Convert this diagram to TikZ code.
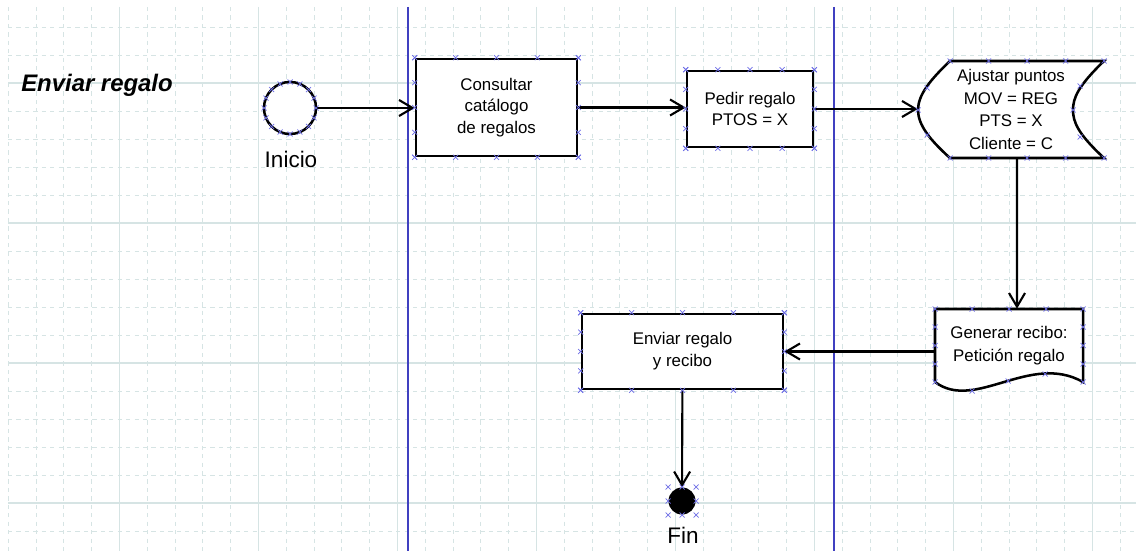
\documentclass[tikz,border=0pt]{standalone}
\usepackage{fontspec}
\setmainfont{Liberation Sans}
\usetikzlibrary{arrows.meta,calc}

\definecolor{gridc}{RGB}{214,228,228}
\definecolor{lanec}{RGB}{64,64,192}
\definecolor{markc}{RGB}{110,110,230}

\tikzset{
  box/.style={draw, line width=1.8pt, fill=white, align=center, font=\fontsize{12}{15.5}\selectfont},
  txt/.style={align=center, font=\fontsize{12}{16}\selectfont},
  outl/.style={draw, line width=1.8pt, fill=white},
  flow/.style={-{Straight Barb[length=3.4mm,width=4mm]}, line width=1.5pt},
  minor/.style={gridc, dash pattern=on 3pt off 3pt},
  major/.style={gridc, line width=0.8pt},
  xmk/.style={markc, line width=0.5pt}
}
\newcommand\cpmark[1]{\draw[xmk] #1 +(-2.5,-2.5) -- +(2.5,2.5) +(-2.5,2.5) -- +(2.5,-2.5);}

\begin{document}
\begin{tikzpicture}[x=0.025cm,y=-0.025cm]
\useasboundingbox (0,0) rectangle (1136,551);
% grid
\foreach \k in {0,...,40} \draw[minor] ({8+27.8*\k},7) -- ({8+27.8*\k},551);
\foreach \j in {0,...,18} \draw[minor] (8,{27+28*\j}) -- (1136,{27+28*\j});
\foreach \k in {4,9,...,39} \draw[major] ({8+27.8*\k},7) -- ({8+27.8*\k},551);
\foreach \j in {2,7,12,17} \draw[major] (8,{27+28*\j}) -- (1136,{27+28*\j});
% lanes
\draw[lanec, line width=1pt] (408,7) -- (408,551);
\draw[lanec, line width=1pt] (834,7) -- (834,551);

\node[anchor=base west, inner sep=0, font=\bfseries\itshape\fontsize{17}{20}\selectfont] (title) at (21,92) {Enviar regalo};

\node[circle, outl, minimum size=1.3cm, inner sep=0] (ini) at (290,108) {};
\node[anchor=base, font=\fontsize{16}{19}\selectfont] (ini-l) at (291,168) {Inicio};

\node[box, minimum width=4.025cm, minimum height=2.425cm] (cons) at (496.5,107.5) {Consultar\\catálogo\\de regalos};
\node[box, minimum width=3.15cm, minimum height=1.9cm] (ped) at (750,109) {Pedir regalo\\PTOS = X};

% display shape
\path[outl] (950,61) -- (1104,61) .. controls (1078,86) and (1073,98) .. (1073,110)
  .. controls (1073,122) and (1078,134) .. (1104,158) -- (950,158)
  .. controls (930,140) and (918,125) .. (918,110) .. controls (918,95) and (930,80) .. cycle;
\node[txt, minimum width=4.65cm, minimum height=2.425cm] (aju) at (1011,109.5) {Ajustar puntos\\MOV = REG\\PTS = X\\Cliente = C};

% document shape
\path[outl] (935,382) -- (935,309) -- (1083,309) -- (1083,382)
  .. controls (1030,352) and (975,412) .. (935,382);
\node[txt, minimum width=3.7cm, minimum height=1.825cm] (gen) at (1009,345.5) {Generar recibo:\\Petición regalo};

\node[box, minimum width=5.025cm, minimum height=1.875cm] (env) at (682.5,351.5) {Enviar regalo\\y recibo};

\node[circle, fill=black, minimum size=0.675cm, inner sep=0] (fin) at (682,501) {};
\node[anchor=base, font=\fontsize{16}{19}\selectfont] (fin-l) at (683,543) {Fin};

\draw[flow] (ini.east) -- (ini.east -| cons.west);
\draw[flow] (cons.east) -- (cons.east -| ped.west);
\draw[flow] (ped.east) -- (ped.east -| aju.west);
\draw[flow] ([xshift=0.15cm]aju.south) -- ([xshift=0.2cm]gen.north);
\draw[flow] (gen.west |- env.east) -- (env.east);
\draw[flow] (env) -- (fin);

% connection marks
\foreach \n in {cons,ped,env}
  \foreach \t in {0,0.25,0.5,0.75,1}
    \foreach \a/\b in {north west/north east,south west/south east,north west/south west,north east/south east}
      {\cpmark{($(\n.\a)!\t!(\n.\b)$)}}
\foreach \p in {(950,61),(988.5,61),(1027,61),(1065.5,61),(1104,61),(950,158),(988.5,158),(1027,158),(1065.5,158),(1104,158),
  (927,88),(918,110),(927,135),(1080,86),(1073,110),(1080,137)}
  {\cpmark{\p}}
\foreach \p in {(935,309),(972,309),(1009,309),(1046,309),(1083,309),(935,327),(935,345.5),(935,364),(935,382),
  (1083,327),(1083,345.5),(1083,364),(1083,382),(972,391),(1008,381),(1045,374)}
  {\cpmark{\p}}
\foreach \a in {0,22.5,...,337.5} {\cpmark{($(ini)+(\a:26)$)}}
\foreach \p in {(668,487),(682,487),(696,487),(668,501),(696,501),(668,515),(682,515),(696,515)}
  {\cpmark{\p}}
\end{tikzpicture}
\end{document}
